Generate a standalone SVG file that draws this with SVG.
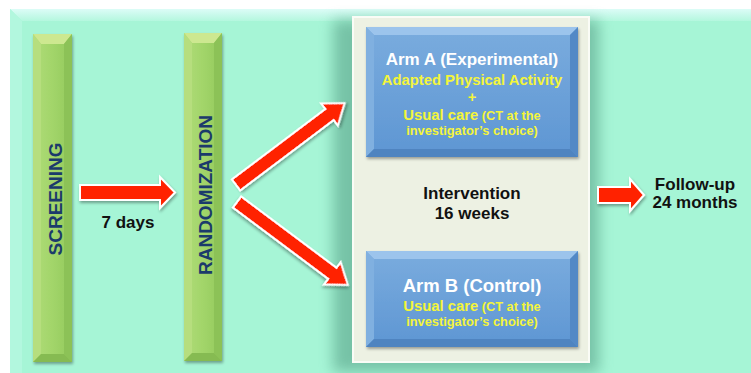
<svg xmlns="http://www.w3.org/2000/svg" width="751" height="373" viewBox="0 0 751 373">
<defs>
<style>
.t{font-family:"Liberation Sans",Arial,sans-serif;font-weight:bold;text-anchor:middle}
.navy{fill:#1b3a6b;font-size:19px}
.blk{fill:#111111;font-size:17px}
.wht{fill:#ffffff}
.yel{fill:#f4f53a}
.arrow{fill:#ff2200;stroke:#ffffff;stroke-width:2;stroke-linejoin:miter;filter:url(#sh)}
</style>
<linearGradient id="gbar" x1="0" y1="0" x2="1" y2="0">
<stop offset="0" stop-color="#b0dc78"/>
<stop offset="0.5" stop-color="#a2d56a"/>
<stop offset="1" stop-color="#93c95c"/>
</linearGradient>
<linearGradient id="gblue" x1="0" y1="0" x2="0" y2="1">
<stop offset="0" stop-color="#7aacde"/>
<stop offset="1" stop-color="#5e96d3"/>
</linearGradient>
<linearGradient id="gtop" x1="0" y1="0" x2="0" y2="1">
<stop offset="0" stop-color="#dcfcf7"/>
<stop offset="1" stop-color="#b4f7de"/>
</linearGradient>
<filter id="sh" x="-20%" y="-20%" width="140%" height="140%">
<feGaussianBlur in="SourceAlpha" stdDeviation="1.5"/>
<feOffset dx="1" dy="2" result="b"/>
<feComponentTransfer><feFuncA type="linear" slope="0.35"/></feComponentTransfer>
<feMerge><feMergeNode/><feMergeNode in="SourceGraphic"/></feMerge>
</filter>
<filter id="blur8" x="-20%" y="-20%" width="140%" height="140%">
<feGaussianBlur stdDeviation="7"/>
</filter>
</defs>

<!-- background -->
<rect x="0" y="0" width="751" height="373" fill="#ffffff"/>
<rect x="10" y="9" width="741" height="364" fill="#a6f5d6"/>
<polygon points="10,9 751,9 751,21 22,21" fill="url(#gtop)"/>
<polygon points="10,9 22,21 22,373 10,373" fill="#b2f7de"/>

<!-- SCREENING -->
<g id="screening">
<rect x="33" y="34" width="39" height="328" fill="url(#gbar)" filter="url(#sh)"/>
<polygon points="33,34 72,34 64,44 41,44" fill="#cde890"/>
<polygon points="33,34 41,44 41,354 33,362" fill="#b6de7e"/>
<polygon points="72,34 64,44 64,354 72,362" fill="#8cc257"/>
<polygon points="33,362 41,354 64,354 72,362" fill="#86bb52"/>
<text class="t navy" transform="translate(61.5,199) rotate(-90)">SCREENING</text>
</g>

<!-- RANDOMIZATION -->
<g id="randomization">
<rect x="184" y="33" width="38" height="328" fill="url(#gbar)" filter="url(#sh)"/>
<polygon points="184,33 222,33 214,43 192,43" fill="#cde890"/>
<polygon points="184,33 192,43 192,353 184,361" fill="#b6de7e"/>
<polygon points="222,33 214,43 214,353 222,361" fill="#8cc257"/>
<polygon points="184,361 192,353 214,353 222,361" fill="#86bb52"/>
<text class="t navy" transform="translate(212,195) rotate(-90)">RANDOMIZATION</text>
</g>

<!-- Intervention box -->
<g id="intervention">
<rect x="333" y="20" width="266" height="352" fill="#4f9a80" opacity="0.55" filter="url(#blur8)"/>
<rect x="353" y="17" width="236" height="345" fill="#edf1e3" stroke="#fafcf6" stroke-width="2"/>
<text class="t blk" x="472" y="199">Intervention</text>
<text class="t blk" x="472" y="219">16 weeks</text>
</g>

<!-- Arm A -->
<g id="armA">
<rect x="366" y="27" width="212" height="130" fill="url(#gblue)" filter="url(#sh)"/>
<polygon points="366,27 578,27 570,35 374,35" fill="#9cc4ec"/>
<polygon points="366,27 374,35 374,149 366,157" fill="#80b0e0"/>
<polygon points="578,27 570,35 570,149 578,157" fill="#5389c6"/>
<polygon points="366,157 374,149 570,149 578,157" fill="#4f84c0"/>
<text class="t wht" x="472" y="65" font-size="17">Arm A (Experimental)</text>
<text class="t yel" x="472" y="85" font-size="14.8">Adapted Physical Activity</text>
<text class="t yel" x="472" y="102" font-size="14.8">+</text>
<text class="t yel" x="472" y="120" font-size="14.8">Usual care<tspan font-size="12.8"> (CT at the</tspan></text>
<text class="t yel" x="472" y="135" font-size="12.8">investigator’s choice)</text>
</g>

<!-- Arm B -->
<g id="armB">
<rect x="366" y="251" width="212" height="96" fill="url(#gblue)" filter="url(#sh)"/>
<polygon points="366,251 578,251 570,259 374,259" fill="#9cc4ec"/>
<polygon points="366,251 374,259 374,339 366,347" fill="#80b0e0"/>
<polygon points="578,251 570,259 570,339 578,347" fill="#5389c6"/>
<polygon points="366,347 374,339 570,339 578,347" fill="#4f84c0"/>
<text class="t wht" x="472" y="292" font-size="18.5">Arm B (Control)</text>
<text class="t yel" x="472" y="311" font-size="14.8">Usual care<tspan font-size="12.8"> (CT at the</tspan></text>
<text class="t yel" x="472" y="326" font-size="12.8">investigator’s choice)</text>
</g>

<!-- Follow-up -->
<g id="followup">
<text class="t blk" x="695" y="190">Follow-up</text>
<text class="t blk" x="695" y="208">24 months</text>
</g>

<!-- connectors -->
<g id="connectors">
<polygon class="arrow" transform="translate(80,192.5)" points="0,-7.5 80,-7.5 80,-15.5 95,0 80,15.5 80,7.5 0,7.5"/>
<text class="t blk" x="128" y="228">7 days</text>
<polygon class="arrow" transform="translate(236,185) rotate(-37)" points="0,-7 117,-7 117,-14 136,0 117,14 117,7 0,7"/>
<polygon class="arrow" transform="translate(237,202) rotate(36.8)" points="0,-7 119,-7 119,-14 138.5,0 119,14 119,7 0,7"/>
<polygon class="arrow" transform="translate(598,195) " points="0,-8 32,-8 32,-16 46,0 32,16 32,8 0,8"/>
</g>
</svg>
